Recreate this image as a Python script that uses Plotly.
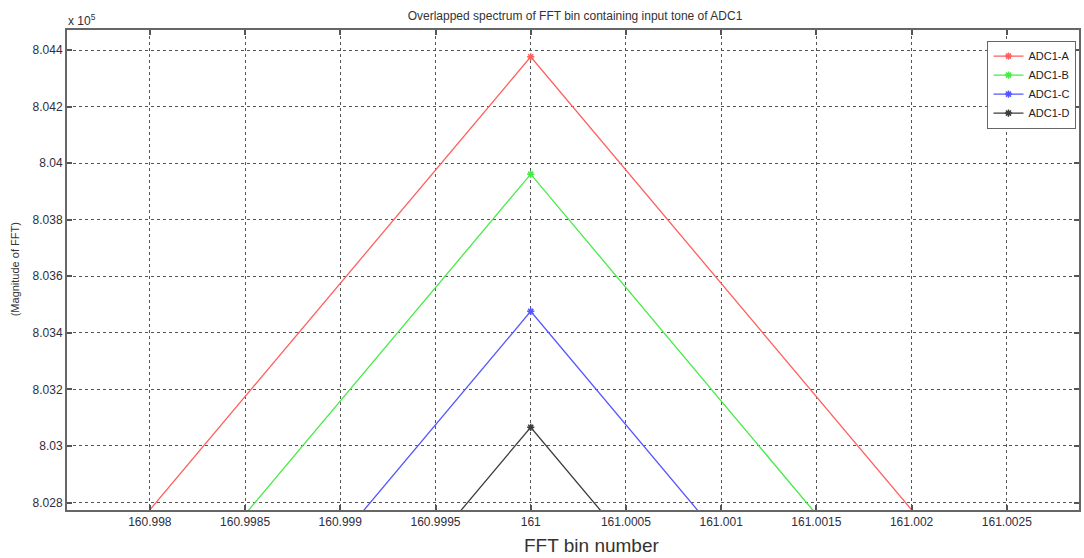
import plotly.graph_objects as go

# FFT bins around the input tone and magnitude of each bin, per channel
bins = [160, 161, 162]
adc1_a = [3400, 804376, 3400]
adc1_b = [1960, 803961, 1960]
adc1_c = [800, 803476, 800]
adc1_d = [600, 803066, 600]

series_names = ["ADC1-A", "ADC1-B", "ADC1-C", "ADC1-D"]
series_values = [adc1_a, adc1_b, adc1_c, adc1_d]
series_colors = ["rgb(255,95,95)", "rgb(70,235,70)", "rgb(85,85,255)", "rgb(60,60,60)"]

x_ticks = [160.998, 160.9985, 160.999, 160.9995, 161.0, 161.0005, 161.001, 161.0015, 161.002, 161.0025]
x_tick_text = ["160.998", "160.9985", "160.999", "160.9995", "161", "161.0005",
               "161.001", "161.0015", "161.002", "161.0025"]
y_ticks = [8.028, 8.030, 8.032, 8.034, 8.036, 8.038, 8.040, 8.042, 8.044]
y_tick_text = ["8.028", "8.03", "8.032", "8.034", "8.036", "8.038", "8.04", "8.042", "8.044"]

SCALE = 1e5  # y axis is shown in units of 10^5

fig = go.Figure()
for name, vals, col in zip(series_names, series_values, series_colors):
    fig.add_trace(go.Scatter(
        x=bins,
        y=[v / SCALE for v in vals],
        mode="lines+markers",
        name=name,
        line=dict(color=col, width=1.3),
        marker=dict(symbol="asterisk-open", size=6, color=col, line=dict(color=col, width=1.5)),
    ))

tick_font = dict(family="Liberation Sans, Arial, sans-serif", size=12, color="#2e2e40")
axis_common = dict(
    showline=True, linecolor="#666", linewidth=2, mirror="ticks",
    ticks="inside", ticklen=5, tickwidth=1.5, tickcolor="#555",
    showgrid=True, gridcolor="#555", gridwidth=1, griddash="dot",
    zeroline=False, tickfont=tick_font,
)

fig.update_layout(
    width=1084, height=558,
    margin=dict(l=67, r=3, t=30, b=48),
    paper_bgcolor="white", plot_bgcolor="white",
    title=dict(
        text="Overlapped spectrum of FFT bin containing input tone of ADC1",
        x=575 / 1084, xanchor="center", y=1 - 16 / 558, yanchor="middle",
        font=dict(family="Liberation Sans, Arial, sans-serif", size=12, color="#333"),
    ),
    xaxis=dict(range=[160.997565, 161.002879], tickmode="array",
               tickvals=x_ticks, ticktext=x_tick_text, **axis_common),
    yaxis=dict(range=[8.027735, 8.044708], tickmode="array",
               tickvals=y_ticks, ticktext=y_tick_text, **axis_common),
    legend=dict(
        x=0.9975, xanchor="right", y=0.978, yanchor="top",
        bgcolor="white", bordercolor="#666", borderwidth=1,
        font=dict(family="Liberation Sans, Arial, sans-serif", size=11, color="#222"),
        tracegroupgap=0, itemwidth=30,
    ),
    showlegend=True,
)

fig.add_annotation(
    text="x 10<sup>5</sup>", xref="paper", yref="paper",
    x=-0.001, y=1.021, xanchor="left", yanchor="middle", showarrow=False,
    font=dict(family="Liberation Sans, Arial, sans-serif", size=12, color="#2e2e40"),
)
fig.add_annotation(
    text="FFT bin number", xref="paper", yref="paper",
    x=0.5187, y=-0.074, xanchor="center", yanchor="middle", showarrow=False,
    font=dict(family="Liberation Sans, Arial, sans-serif", size=19, color="#333"),
)
fig.add_annotation(
    text="(Magnitude of FFT)", xref="paper", yref="paper", textangle=-90,
    x=-0.0513, y=0.5016, xanchor="center", yanchor="middle", showarrow=False,
    font=dict(family="Liberation Sans, Arial, sans-serif", size=11, color="#333"),
)

fig.write_html("out.html")
